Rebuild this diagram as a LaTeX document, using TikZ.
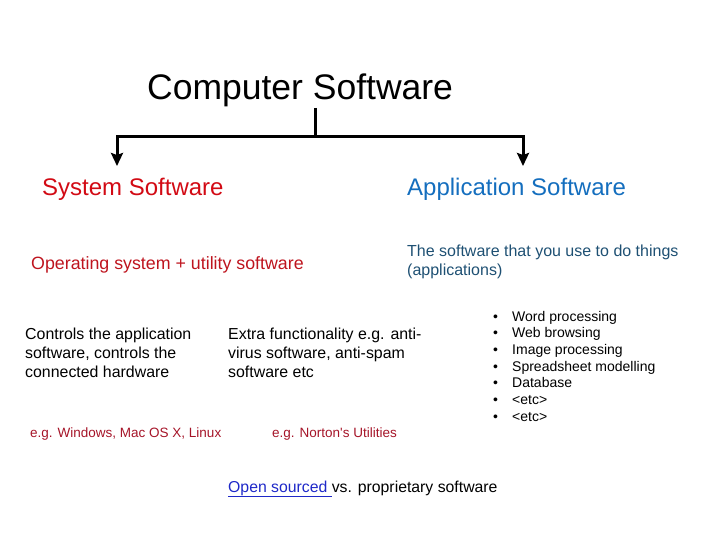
\documentclass[tikz,border=0pt]{standalone}
\usepackage{fontspec}
\setmainfont{Liberation Sans}
\usepackage{tikz}
\usetikzlibrary{arrows.meta,positioning,calc}
\definecolor{sysred}{RGB}{210,10,20}
\definecolor{opred}{RGB}{190,20,30}
\definecolor{egred}{RGB}{165,20,40}
\definecolor{appblue}{RGB}{20,110,190}
\definecolor{deepteal}{RGB}{30,80,115}
\definecolor{linkblue}{RGB}{30,40,200}
\tikzset{
  txt/.style={anchor=base west, inner sep=0pt, align=left},
  bar/.style={line width=3pt, black},
  arr/.style={bar, -{Stealth[length=13pt,width=12pt,inset=2pt]}}
}
\begin{document}
\begin{tikzpicture}[x=1pt,y=-1pt]
\useasboundingbox (0,0) rectangle (720,540);
% headings
\node[txt, font=\fontsize{35.5}{40}\selectfont] (comp) at (147,100) {Computer Software};
\node[txt, font=\fontsize{24}{28}\selectfont, text=sysred] (sys) at (42,196) {System Software};
\node[txt, font=\fontsize{24}{28}\selectfont, text=appblue] (app) at (407,196) {Application Software};
% connectors
\coordinate (top) at (315,108);
\coordinate (join) at (315,137);
\coordinate (lt) at (117,137);
\coordinate (rt) at (523,137);
\coordinate (lend) at (117,166);
\coordinate (rend) at (523,166);
\draw[bar] (top) -- (join);
\draw[bar, line cap=rect] (lt) -- (rt);
\draw[arr] (lt) -- (lend);
\draw[arr] (rt) -- (rend);
% second level (base = last line)
\node[txt, font=\fontsize{17.8}{21}\selectfont, text=opred] (os) at (31,269) {Operating system + utility software};
\node[txt, font=\fontsize{16}{19}\selectfont, text=deepteal] (use) at (407,275) {The software that you use to do things\\(applications)};
% details
\node[txt, font=\fontsize{15.9}{19}\selectfont] (ctrl) at (25,377) {Controls the application\\software, controls the\\connected hardware};
\node[txt, font=\fontsize{15.9}{19}\selectfont] (extra) at (228,377) {Extra functionality e.g. anti-\\virus software, anti-spam\\software etc};
\node[txt, font=\fontsize{13.5}{16}\selectfont, text=egred] (egwin) at (30,437) {e.g. Windows, Mac OS X, Linux};
\node[txt, font=\fontsize{13.5}{16}\selectfont, text=egred] (egnort) at (272,437) {e.g. Norton\textquotesingle s Utilities};
% application list
\foreach \item [count=\i from 0] in {Word processing, Web browsing, Image processing, Spreadsheet modelling, Database, <etc>, <etc>}{
  \node[txt, font=\fontsize{14}{16}\selectfont] (bul\i) at (493,{321+16.7*\i}) {\textbullet};
  \node[txt, font=\fontsize{14}{16}\selectfont] (item\i) at (512,{321+16.7*\i}) {\item};
}
\node[txt, font=\fontsize{15.8}{18}\selectfont] (open) at (228,492) {{\color{linkblue}\underline{Open sourced\ }}vs. proprietary software};
\end{tikzpicture}
\end{document}
